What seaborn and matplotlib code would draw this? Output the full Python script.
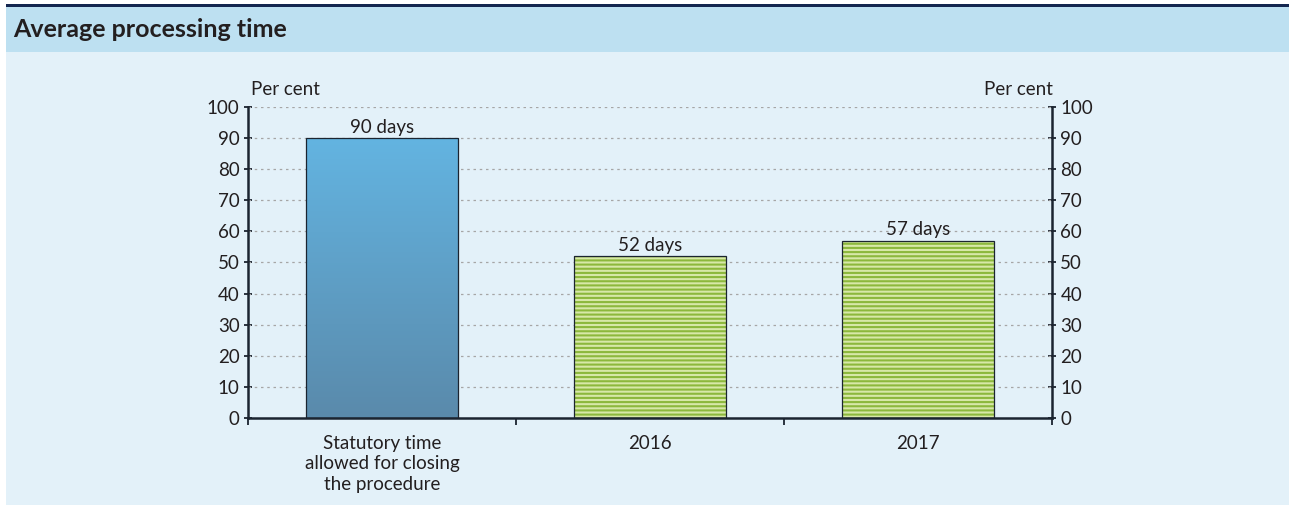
import numpy as np
import pandas as pd
import seaborn as sns
import matplotlib.pyplot as plt
from matplotlib.patches import Rectangle
from matplotlib.colors import LinearSegmentedColormap

# --- data ---
categories = ['Statutory time\nallowed for closing\nthe procedure', '2016', '2017']
values = [90, 52, 57]
bar_labels = ['90 days', '52 days', '57 days']
y_ticks = list(range(0, 101, 10))

df = pd.DataFrame({'category': categories, 'value': values})

sns.set_style('white')
plt.rcParams['font.family'] = ['Lato', 'DejaVu Sans']
plt.rcParams['hatch.linewidth'] = 1.5

bg = '#e3f1f9'
header = '#bde0f1'
dark = '#1b2430'
txt = '#231f20'
fs = 13.5

fig = plt.figure(figsize=(12.89, 5.08), dpi=100)
fig.patch.set_facecolor('white')

# panel background + header band
fig.patches.append(Rectangle((0.0047, 0.006), 0.9953, 0.892, transform=fig.transFigure,
                             facecolor=bg, edgecolor='none', zorder=-3))
fig.patches.append(Rectangle((0.0047, 0.8976), 0.9953, 0.0905, transform=fig.transFigure,
                             facecolor=header, edgecolor='none', zorder=-3))
fig.patches.append(Rectangle((0.0047, 0.9866), 0.9953, 0.0054, transform=fig.transFigure,
                             facecolor='#14264f', edgecolor='none', zorder=-2))
fig.text(0.0105, 0.941, 'Average processing time', fontsize=18, fontweight='bold',
         color=txt, va='center', ha='left')

ax = fig.add_axes([0.1924, 0.1772, 0.6237, 0.6122])
ax.set_facecolor('none')

sns.barplot(data=df, x='category', y='value', ax=ax, width=0.57,
            color='#d7e8a8', edgecolor='none', linewidth=0, zorder=2)

ax.set_xlim(-0.5, 2.5)
ax.set_ylim(0, 100)

# gridlines
for v in y_ticks[1:]:
    ax.axhline(v, color='#a6a6a6', linestyle=(0, (2, 3)), linewidth=0.9, zorder=1)

patches = list(ax.patches)
# first bar: vertical gradient
cmap = LinearSegmentedColormap.from_list('blue_grad', ['#5a8aab', '#63b4e1'])
p0 = patches[0]
x0, w0, h0 = p0.get_x(), p0.get_width(), p0.get_height()
grad = np.linspace(0, 1, 256).reshape(-1, 1)
im = ax.imshow(grad, extent=[x0, x0 + w0, 0, h0], origin='lower', aspect='auto',
               cmap=cmap, zorder=3)
im.set_clip_path(p0)
p0.set_facecolor('none')

# other bars: horizontal green stripes
for p in patches[1:]:
    p.set_facecolor('#d7e8a8')
    p.set_hatch('----')
    p.set_edgecolor('#8cb83c')
    p.set_linewidth(0)

# outlines
for p in patches:
    ax.add_patch(Rectangle((p.get_x(), 0), p.get_width(), p.get_height(),
                           facecolor='none', edgecolor=dark, linewidth=0.9, zorder=4))

for p, lab in zip(patches, bar_labels):
    ax.text(p.get_x() + p.get_width() / 2, p.get_height() + 0.8, lab,
            ha='center', va='bottom', fontsize=fs, color=txt, zorder=5)

# axes styling
for side in ['left', 'right', 'bottom']:
    ax.spines[side].set_visible(True)
    ax.spines[side].set_color(dark)
    ax.spines[side].set_linewidth(1.8)
    ax.spines[side].set_zorder(6)
ax.spines['top'].set_visible(False)

ax.set_yticks(y_ticks)
ax.tick_params(axis='y', which='both', left=True, right=True, labelleft=True,
               labelright=True, direction='inout', length=6, width=1.3,
               color=dark, labelsize=fs, labelcolor=txt, pad=3)
ax.set_xticks(range(len(categories)))
ax.set_xticklabels(categories, fontsize=fs, color=txt, linespacing=1.25)
ax.set_xticks([-0.5, 0.5, 1.5, 2.5], minor=True)
ax.tick_params(axis='x', which='major', length=0, pad=12)
ax.tick_params(axis='x', which='minor', bottom=True, direction='out', length=5,
               width=1.3, color=dark)
ax.set_xlabel('')
ax.set_ylabel('')

ax.text(0.046, 1.03, 'Per cent', transform=ax.transAxes, ha='center', va='bottom',
        fontsize=fs, color=txt)
ax.text(0.958, 1.03, 'Per cent', transform=ax.transAxes, ha='center', va='bottom',
        fontsize=fs, color=txt)

fig.savefig('out.png', dpi=100, facecolor=fig.get_facecolor())
